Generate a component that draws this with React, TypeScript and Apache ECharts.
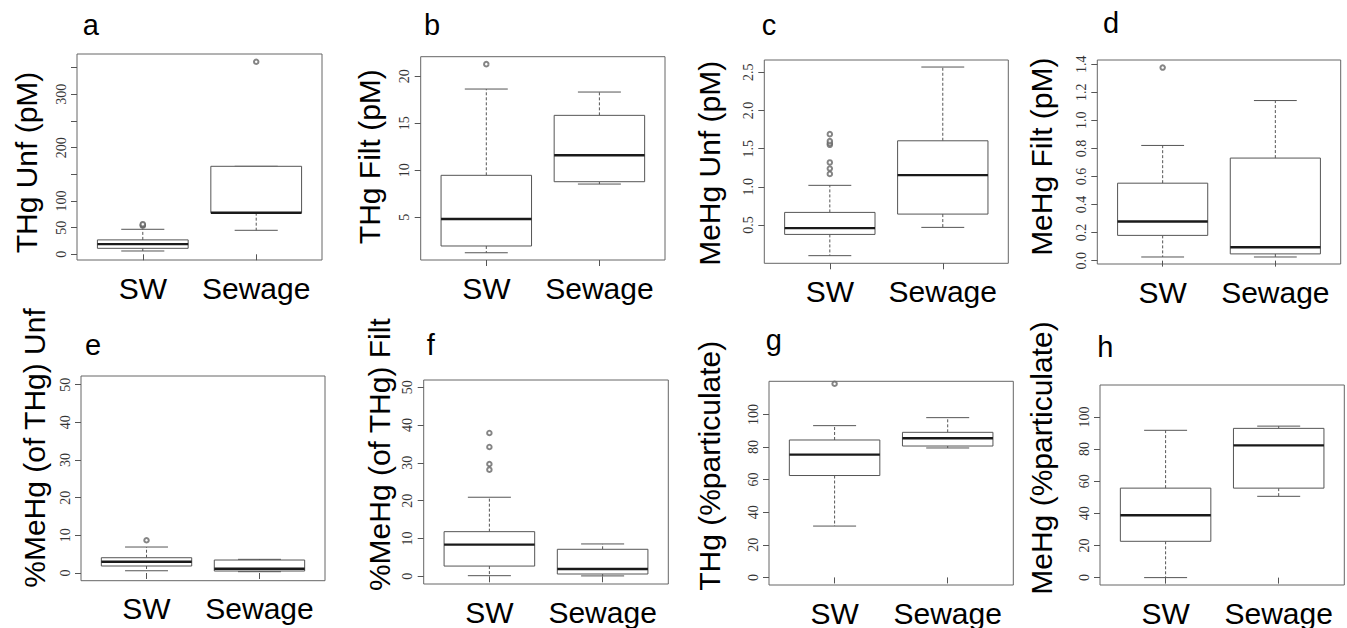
import React, { useEffect, useRef } from "react";
import * as echarts from "echarts";

// ---------- data ----------
const CATEGORIES = ["SW", "Sewage"];
const PANEL_LETTERS = ["a", "b", "c", "d", "e", "f", "g", "h"];
const Y_TITLES = [
  "THg Unf (pM)",
  "THg Filt (pM)",
  "MeHg Unf (pM)",
  "MeHg Filt (pM)",
  "%MeHg (of THg) Unf",
  "%MeHg (of THg) Filt",
  "THg (%particulate)",
  "MeHg (%particulate)",
];

// boxes: [lower whisker, Q1, median, Q3, upper whisker]
const A_SW = [6.2, 11.2, 19.0, 27.0, 46.9];
const A_SEWAGE = [45, 78, 78, 165, 165];
const A_OUT_SW = [53.5, 55, 56.5];
const A_OUT_SEWAGE = [361];

const B_SW = [1.23, 1.95, 4.82, 9.47, 18.65];
const B_SEWAGE = [8.54, 8.79, 11.6, 15.85, 18.33];
const B_OUT_SW = [21.3];
const B_OUT_SEWAGE: number[] = [];

const C_SW = [0.1, 0.378, 0.46, 0.666, 1.02];
const C_SEWAGE = [0.47, 0.644, 1.154, 1.603, 2.568];
const C_OUT_SW = [1.17, 1.24, 1.32, 1.55, 1.57, 1.6, 1.69];
const C_OUT_SEWAGE: number[] = [];

const D_SW = [0.026, 0.18, 0.279, 0.552, 0.821];
const D_SEWAGE = [0.026, 0.048, 0.095, 0.731, 1.141];
const D_OUT_SW = [1.376];
const D_OUT_SEWAGE: number[] = [];

const E_SW = [0.6, 1.86, 3.0, 4.06, 6.9];
const E_SEWAGE = [0.35, 0.53, 1.15, 3.45, 3.63];
const E_OUT_SW = [8.7];
const E_OUT_SEWAGE: number[] = [];

const F_SW = [0.16, 2.7, 8.36, 11.8, 20.9];
const F_SEWAGE = [0.1, 0.6, 1.93, 7.14, 8.55];
const F_OUT_SW = [28.2, 29.7, 34.2, 37.9];
const F_OUT_SEWAGE: number[] = [];

const G_SW = [31.5, 62.5, 75.3, 84.3, 93.1];
const G_SEWAGE = [79.4, 80.6, 85.4, 89.0, 98.0];
const G_OUT_SW = [118.8];
const G_OUT_SEWAGE: number[] = [];

const H_SW = [0, 22.6, 38.8, 55.7, 91.7];
const H_SEWAGE = [50.6, 55.7, 82.3, 92.9, 94.3];
const H_OUT_SW: number[] = [];
const H_OUT_SEWAGE: number[] = [];

// y axis ranges and ticks
const Y_MIN = [-10.7, 0.46, 0.0, -0.024, -2.04, -2.04, -4.65, -4.6];
const Y_MAX = [375.6, 22.09, 2.66, 1.43, 52.3, 51.9, 120.3, 119.9];
const Y_TICKS = [
  [0, 50, 100, 150, 200, 250, 300, 350],
  [5, 10, 15, 20],
  [0.5, 1.0, 1.5, 2.0, 2.5],
  [0.0, 0.2, 0.4, 0.6, 0.8, 1.0, 1.2, 1.4],
  [0, 10, 20, 30, 40, 50],
  [0, 10, 20, 30, 40, 50],
  [0, 20, 40, 60, 80, 100],
  [0, 20, 40, 60, 80, 100],
];
const Y_LABELS = [
  [0, 50, 100, 200, 300],
  [5, 10, 15, 20],
  [0.5, 1.0, 1.5, 2.0, 2.5],
  [0.0, 0.2, 0.4, 0.6, 0.8, 1.0, 1.2, 1.4],
  [0, 10, 20, 30, 40, 50],
  [0, 10, 20, 30, 40, 50],
  [0, 20, 40, 60, 80, 100],
  [0, 20, 40, 60, 80, 100],
];
const Y_DECIMALS = [0, 0, 1, 1, 0, 0, 0, 0];

const BOXES = [
  [A_SW, A_SEWAGE],
  [B_SW, B_SEWAGE],
  [C_SW, C_SEWAGE],
  [D_SW, D_SEWAGE],
  [E_SW, E_SEWAGE],
  [F_SW, F_SEWAGE],
  [G_SW, G_SEWAGE],
  [H_SW, H_SEWAGE],
];
const OUTLIERS = [
  [A_OUT_SW, A_OUT_SEWAGE],
  [B_OUT_SW, B_OUT_SEWAGE],
  [C_OUT_SW, C_OUT_SEWAGE],
  [D_OUT_SW, D_OUT_SEWAGE],
  [E_OUT_SW, E_OUT_SEWAGE],
  [F_OUT_SW, F_OUT_SEWAGE],
  [G_OUT_SW, G_OUT_SEWAGE],
  [H_OUT_SW, H_OUT_SEWAGE],
];

// ---------- layout ----------
const GRIDS = [
  { left: 77, top: 54, width: 245, height: 206 },
  { left: 420.7, top: 56.7, width: 244.3, height: 203.3 },
  { left: 764.3, top: 60, width: 244, height: 203.3 },
  { left: 1097.3, top: 60, width: 243.4, height: 204 },
  { left: 81, top: 376, width: 244, height: 204.7 },
  { left: 423.7, top: 380, width: 244.6, height: 204 },
  { left: 769, top: 381.3, width: 244.3, height: 204 },
  { left: 1100, top: 385, width: 244.3, height: 204.3 },
];
const TITLE_POS = [
  [26.2, 162.5],
  [369.5, 156.7],
  [709.5, 163.3],
  [1041.2, 156.7],
  [34.5, 448],
  [379.5, 454.7],
  [709.5, 465.8],
  [1041.2, 458],
];
const LETTER_POS = [
  [82.7, 25],
  [424, 25],
  [761.7, 25],
  [1103, 23.3],
  [85, 345],
  [426.7, 345],
  [765.7, 340],
  [1097.3, 346.7],
];

const SANS = "'Liberation Sans', Arial, Helvetica, sans-serif";
const SERIF = "'Liberation Serif', 'Times New Roman', serif";
const LINE = "#555";

function renderBox(params: any, api: any) {
  const x = api.value(0);
  const lo = api.value(1);
  const q1 = api.value(2);
  const med = api.value(3);
  const q3 = api.value(4);
  const hi = api.value(5);
  const half = 0.4;
  const st = 0.19;
  const c = (xx: number, yy: number) => api.coord([xx, yy]);
  const tl = c(x - half, q3);
  const br = c(x + half, q1);
  const mL = c(x - half, med);
  const mR = c(x + half, med);
  const pQ3 = c(x, q3);
  const pHi = c(x, hi);
  const pQ1 = c(x, q1);
  const pLo = c(x, lo);
  const hiL = c(x - st, hi);
  const hiR = c(x + st, hi);
  const loL = c(x - st, lo);
  const loR = c(x + st, lo);
  const thin = { stroke: LINE, lineWidth: 1, fill: "none" };
  const dash = { stroke: LINE, lineWidth: 1, lineDash: [3, 2] };
  return {
    type: "group",
    children: [
      { type: "line", shape: { x1: pQ3[0], y1: pQ3[1], x2: pHi[0], y2: pHi[1] }, style: dash },
      { type: "line", shape: { x1: pQ1[0], y1: pQ1[1], x2: pLo[0], y2: pLo[1] }, style: dash },
      { type: "line", shape: { x1: hiL[0], y1: hiL[1], x2: hiR[0], y2: hiR[1] }, style: thin },
      { type: "line", shape: { x1: loL[0], y1: loL[1], x2: loR[0], y2: loR[1] }, style: thin },
      {
        type: "rect",
        shape: { x: tl[0], y: tl[1], width: br[0] - tl[0], height: br[1] - tl[1] },
        style: { stroke: LINE, lineWidth: 1, fill: "#fff" },
      },
      {
        type: "line",
        shape: { x1: mL[0], y1: mL[1], x2: mR[0], y2: mR[1] },
        style: { stroke: "#1a1a1a", lineWidth: 2.4 },
      },
    ],
  };
}

function buildOption() {
  const grid: any[] = [];
  const xAxis: any[] = [];
  const yAxis: any[] = [];
  const series: any[] = [];
  const graphic: any[] = [];

  for (let i = 0; i < 8; i++) {
    grid.push({
      ...GRIDS[i],
      show: true,
      borderColor: "#666",
      borderWidth: 1,
      backgroundColor: "#fff",
      containLabel: false,
    });
    xAxis.push({
      gridIndex: i,
      type: "value",
      min: 0.42,
      max: 2.58,
      axisLine: { show: false },
      splitLine: { show: false },
      axisTick: { show: true, length: 6, customValues: [1, 2], lineStyle: { color: LINE } },
      axisLabel: {
        customValues: [1, 2],
        formatter: (v: number) => CATEGORIES[Math.round(v) - 1] || "",
        fontFamily: SANS,
        fontSize: 30,
        color: "#000",
        margin: 13,
      },
    });
    const dec = Y_DECIMALS[i];
    yAxis.push({
      gridIndex: i,
      type: "value",
      min: Y_MIN[i],
      max: Y_MAX[i],
      axisLine: { show: false },
      splitLine: { show: false },
      axisTick: { show: true, length: 6, customValues: Y_TICKS[i], lineStyle: { color: LINE } },
      axisLabel: {
        customValues: Y_LABELS[i],
        formatter: (v: number) => v.toFixed(dec),
        rotate: 90,
        margin: 9,
        fontFamily: SERIF,
        fontSize: 14,
        color: "#333",
      },
    });
    const boxData = BOXES[i].map((b, k) => [k + 1, ...b]);
    series.push({
      type: "custom",
      xAxisIndex: i,
      yAxisIndex: i,
      renderItem: renderBox,
      encode: { x: 0, y: [1, 2, 3, 4, 5] },
      data: boxData,
      silent: true,
    });
    const outData: number[][] = [];
    OUTLIERS[i].forEach((arr, k) => arr.forEach((v) => outData.push([k + 1, v])));
    series.push({
      type: "scatter",
      xAxisIndex: i,
      yAxisIndex: i,
      symbol: "emptyCircle",
      symbolSize: 4.5,
      itemStyle: { color: "#666", borderWidth: 0.9 },
      data: outData,
      silent: true,
      z: 5,
    });
    graphic.push({
      type: "text",
      x: LETTER_POS[i][0],
      y: LETTER_POS[i][1],
      style: {
        text: PANEL_LETTERS[i],
        font: `29px ${SANS}`,
        fill: "#000",
        textAlign: "left",
        textVerticalAlign: "middle",
      },
    });
    graphic.push({
      type: "text",
      x: TITLE_POS[i][0],
      y: TITLE_POS[i][1],
      rotation: Math.PI / 2,
      style: {
        text: Y_TITLES[i],
        font: `30px ${SANS}`,
        fill: "#000",
        textAlign: "center",
        textVerticalAlign: "middle",
      },
    });
  }

  return {
    animation: false,
    backgroundColor: "#fff",
    grid,
    xAxis,
    yAxis,
    series,
    graphic,
  };
}

export default function App() {
  const ref = useRef<HTMLDivElement>(null);
  useEffect(() => {
    document.body.style.margin = "0";
    const chart = echarts.init(ref.current!, null, { renderer: "svg" });
    chart.setOption(buildOption() as any);
    return () => chart.dispose();
  }, []);
  return (
    <div
      ref={ref}
      style={{ position: "absolute", left: 0, top: 0, width: 1347, height: 628 }}
    />
  );
}
